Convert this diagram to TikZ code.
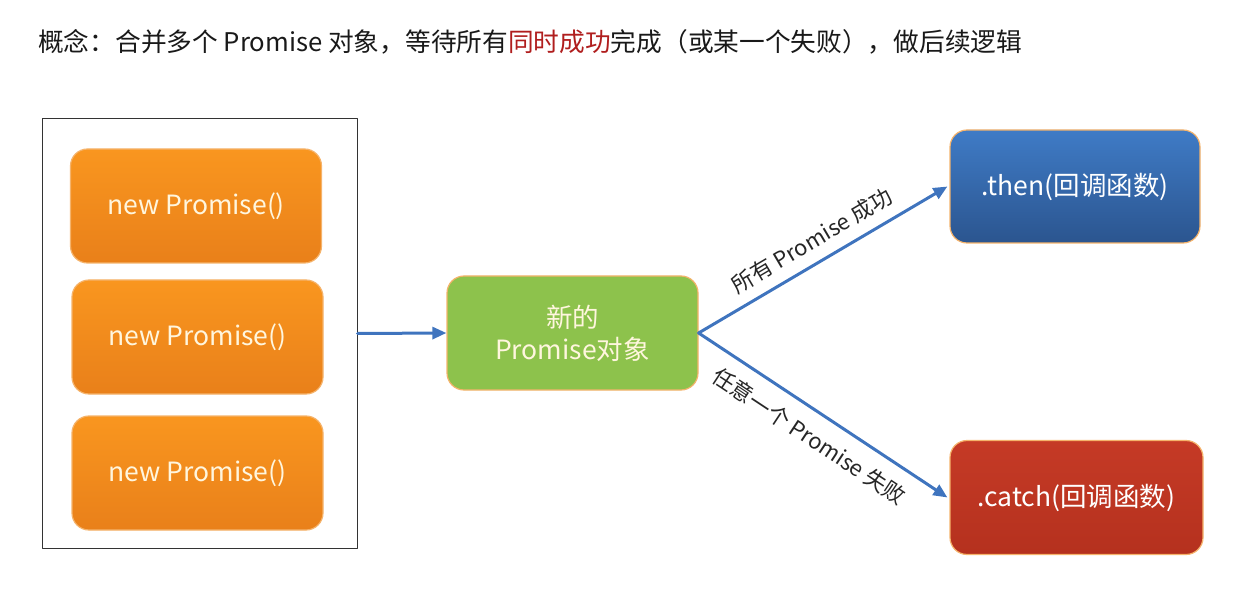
\documentclass[tikz,border=0pt]{standalone}
\usepackage{fontspec}
\setmainfont{Noto Sans CJK SC}
\usetikzlibrary{arrows.meta, positioning}
\definecolor{orangetop}{HTML}{F9961F}
\definecolor{orangebot}{HTML}{E9801A}
\definecolor{orangeedge}{HTML}{F5B36B}
\definecolor{greenfill}{HTML}{8DC24C}
\definecolor{bluetop}{HTML}{3F7BC6}
\definecolor{bluebot}{HTML}{2B558F}
\definecolor{redtop}{HTML}{C53A26}
\definecolor{redbot}{HTML}{B5311E}
\definecolor{flowblue}{HTML}{3F74BE}
\definecolor{titlered}{HTML}{B01E1E}
\definecolor{cream}{HTML}{FFF6DE}
\tikzset{
  >={Triangle[length=14pt, width=12pt]},
  every picture/.style={line cap=round, line join=round},
  % rounded boxes
  card/.style={rounded corners=17pt, minimum width=251pt, minimum height=114pt,
    align=center, font=\fontsize{26.5}{32}\selectfont, line width=1.2pt},
  promisebox/.style={card, draw=orangeedge, top color=orangetop, bottom color=orangebot, text=cream},
  newbox/.style={card, draw=orangeedge, fill=greenfill, text=cream},
  thenbox/.style={card, draw=orangeedge, top color=bluetop, bottom color=bluebot, text=white},
  catchbox/.style={card, draw=orangeedge, top color=redtop, bottom color=redbot, text=white},
  flow/.style={->, draw=flowblue, line width=3pt},
  flowlabel/.style={font=\fontsize{22}{26}\selectfont, text=black!85, sloped},
}

\begin{document}
\begin{tikzpicture}[x=1pt, y=-1pt]
  \useasboundingbox (0,0) rectangle (1238,601);
  % ---------------- title
  \node[anchor=base west, inner sep=0pt, font=\fontsize{25.7}{30}\selectfont, text=black!90] (title) at (38,52)
    {概念：合并多个 Promise 对象，等待所有\textcolor{titlered}{同时成功}完成（或某一个失败），做后续逻辑};
  % ---------------- the group of promises
  \node[draw=black!80, line width=1pt, minimum width=315pt, minimum height=429pt] (group) at (199.5,333.5) {};
  \node[promisebox] (p1) at (196,206) {new Promise()};
  \node[promisebox] (p2) at (197.5,337) {new Promise()};
  \node[promisebox] (p3) at (197.5,473) {new Promise()};
  % ---------------- Promise.all result and handlers
  \node[newbox] (all) at (572.5,333) {新的\\Promise对象};
  \node[thenbox, minimum width=250pt, minimum height=113pt] (then) at (1075,186.5) {.then(回调函数)};
  \node[catchbox, minimum width=253pt] (catch) at (1076.5,497.5) {.catch(回调函数)};
  % ---------------- arrows
  \draw[flow] (group.east) -- (all.west);
  \draw[flow] (all.east) -- node[flowlabel, above=7pt] {所有 Promise 成功} ([xshift=-2pt]then.west);
  \draw[flow] (all.east) -- node[flowlabel, below=10pt] {任意一个 Promise 失败} ([xshift=-2pt]catch.west);
\end{tikzpicture}
\end{document}
